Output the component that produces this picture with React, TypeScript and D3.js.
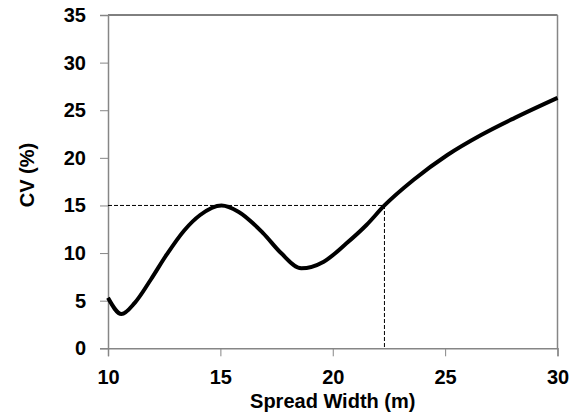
import React, { useRef, useEffect } from 'react';
import * as d3 from 'd3';

// Spread width (m) vs CV (%)
const SPREAD = [10, 10.6, 11.2, 11.9, 12.6, 13.4, 14.1, 15.05, 15.8, 16.9, 17.7, 18.6, 19.6, 20.6, 21.5, 22.3, 23.6, 25.1, 26.6, 28.1, 30];
const CV = [5.3, 3.6, 4.8, 7.2, 9.8, 12.4, 14.0, 15.0, 14.35, 12.1, 10.0, 8.4, 9.1, 11.0, 12.95, 15.0, 17.7, 20.3, 22.4, 24.2, 26.3];

const X_TICKS = [10, 15, 20, 25, 30];
const Y_TICKS = [0, 5, 10, 15, 20, 25, 30, 35];

// threshold guide: CV = 15% reached at ~22.3 m
const GUIDE_X = 22.3;
const GUIDE_Y = 15;

const W = 572;
const H = 420;
const FONT = '"Liberation Sans", Arial, sans-serif';

export default function App() {
  const svgRef = useRef<SVGSVGElement>(null);

  useEffect(() => {
    if (!svgRef.current) return;
    const svg = d3.select(svgRef.current);
    svg.selectAll('*').remove();

    const left = 108, right = 557.5, top = 15, bottom = 348.3;
    const x = d3.scaleLinear().domain([10, 30]).range([left, right]);
    const y = d3.scaleLinear().domain([0, 35]).range([bottom, top]);

    const axisColor = '#868686';

    // frame: top black, right gray
    svg.append('line')
      .attr('x1', left).attr('x2', right).attr('y1', top).attr('y2', top)
      .attr('stroke', '#000').attr('stroke-width', 1);
    svg.append('line')
      .attr('x1', right).attr('x2', right).attr('y1', top).attr('y2', bottom)
      .attr('stroke', axisColor).attr('stroke-width', 1.5);

    // y axis
    const yAxis = svg.append('g').attr('transform', `translate(${left},0)`)
      .call(d3.axisLeft(y).tickValues(Y_TICKS).tickSize(8).tickPadding(14).tickFormat(d3.format('d')));
    yAxis.select('.domain').attr('stroke', axisColor).attr('stroke-width', 1.5);
    yAxis.selectAll('.tick line').attr('stroke', axisColor);
    yAxis.selectAll('.tick text')
      .attr('font-family', FONT).attr('font-size', 20).attr('font-weight', 'bold').attr('fill', '#000');

    // x axis
    const xAxis = svg.append('g').attr('transform', `translate(0,${bottom})`)
      .call(d3.axisBottom(x).tickValues(X_TICKS).tickSize(8).tickPadding(14).tickFormat(d3.format('d')));
    xAxis.select('.domain').attr('stroke', axisColor).attr('stroke-width', 1.5);
    xAxis.selectAll('.tick line').attr('stroke', axisColor);
    xAxis.selectAll('.tick text')
      .attr('font-family', FONT).attr('font-size', 20).attr('font-weight', 'bold').attr('fill', '#000');

    // dashed guides
    svg.append('path')
      .attr('d', `M${x(10)},${y(GUIDE_Y)}H${x(GUIDE_X)}V${y(0)}`)
      .attr('fill', 'none').attr('stroke', '#000').attr('stroke-width', 1)
      .attr('stroke-dasharray', '4,2');

    // curve
    const pts = SPREAD.map((s, i) => [s, CV[i]] as [number, number]);
    const line = d3.line<[number, number]>()
      .x(d => x(d[0])).y(d => y(d[1]))
      .curve(d3.curveMonotoneX);
    svg.append('path')
      .attr('d', line(pts))
      .attr('fill', 'none').attr('stroke', '#000').attr('stroke-width', 4)
      .attr('stroke-linejoin', 'round');

    // titles
    svg.append('text')
      .attr('x', (left + right) / 2).attr('y', 408)
      .attr('text-anchor', 'middle')
      .attr('font-family', FONT).attr('font-size', 20).attr('font-weight', 'bold')
      .text('Spread Width (m)');
    svg.append('text')
      .attr('transform', `translate(34,175) rotate(-90)`)
      .attr('text-anchor', 'middle')
      .attr('font-family', FONT).attr('font-size', 20).attr('font-weight', 'bold')
      .text('CV (%)');
  }, []);

  return (
    <svg
      ref={svgRef}
      width={W}
      height={H}
      style={{ position: 'absolute', left: 0, top: 0, background: '#fff' }}
    />
  );
}
